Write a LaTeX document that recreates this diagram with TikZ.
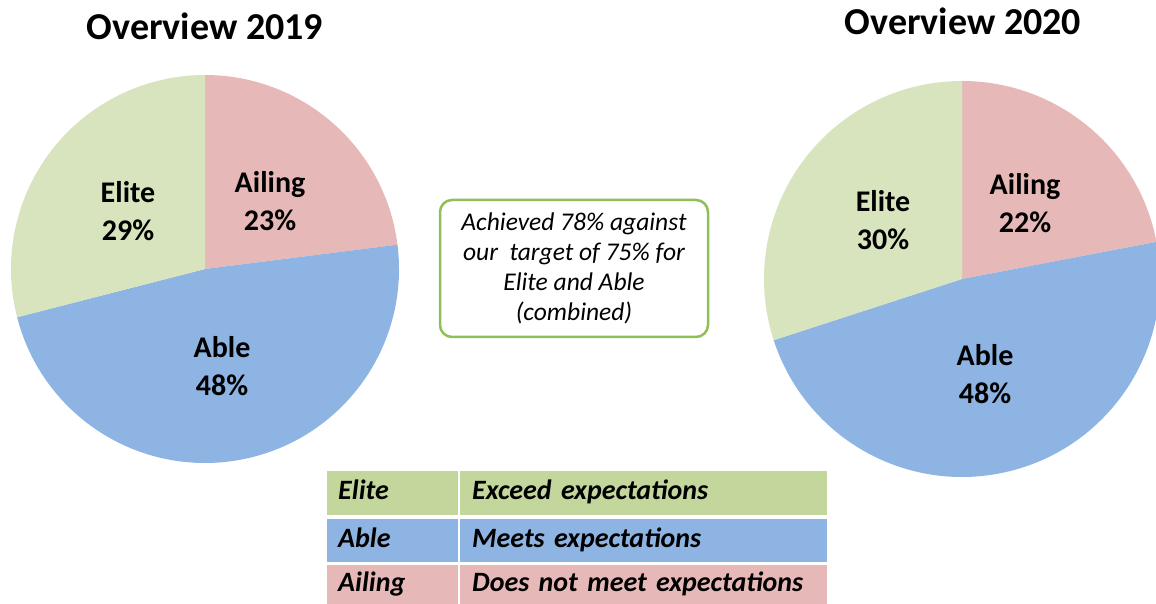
\documentclass[tikz,border=0pt]{standalone}
\usepackage{fontspec}
\setmainfont{Carlito}
\definecolor{elitegreen}{HTML}{D7E4BD}
\definecolor{ailingpink}{HTML}{E6B9B8}
\definecolor{ableblue}{HTML}{8EB4E3}
\definecolor{elitedark}{HTML}{C3D69B}
\definecolor{boxgreen}{HTML}{8FC057}
\tikzset{
  title/.style={anchor=base, font=\fontsize{38}{40}\selectfont\bfseries},
  pielabel/.style={align=center, font=\fontsize{30}{38}\selectfont\bfseries},
  cell/.style={anchor=north west, inner xsep=11pt, inner ysep=0pt, align=left,
    text height=19pt, text depth=6pt, font=\fontsize{28}{30}\selectfont\bfseries\itshape}
}
\begin{document}
\begin{tikzpicture}[x=1pt,y=1pt]
  \useasboundingbox (0,0) rectangle (1156,604);

  % 2019
  \fill[ailingpink] (205,335) -- ++(90:194) arc (90:7.2:194) -- cycle;
  \fill[ableblue] (205,335) -- ++(7.2:194) arc (7.2:-165.6:194) -- cycle;
  \fill[elitegreen] (205,335) -- ++(194.4:194) arc (194.4:90:194) -- cycle;
  \node[title] (title2019) at (205,564) {Overview 2019};
  \node[pielabel] (elite2019) at (128,393) {Elite\\29\%};
  \node[pielabel] (ailing2019) at (270,403) {Ailing\\23\%};
  \node[pielabel] (able2019) at (222,238) {Able\\48\%};

  % 2020
  \fill[ailingpink] (962,325) -- ++(90:198) arc (90:10.8:198) -- cycle;
  \fill[ableblue] (962,325) -- ++(10.8:198) arc (10.8:-162:198) -- cycle;
  \fill[elitegreen] (962,325) -- ++(198:198) arc (198:90:198) -- cycle;
  \node[title] (title2020) at (963,569) {Overview 2020};
  \node[pielabel] (elite2020) at (883,384) {Elite\\30\%};
  \node[pielabel] (ailing2020) at (1025,401) {Ailing\\22\%};
  \node[pielabel] (able2020) at (985,230) {Able\\48\%};

  % target box
  \draw[boxgreen, line width=2.5pt, rounded corners=12pt] (440,267) rectangle (708,404);
  \node[align=center, font=\fontsize{25.5}{30}\selectfont\itshape] (target) at (574,336)
    {Achieved 78\% against\\our\ \ target of 75\% for\\Elite and Able\\(combined)};

  % key
  \node[cell, fill=elitedark, text width=109pt, minimum height=44pt] (elitekey) at (327,133) {Elite};
  \node[cell, fill=elitedark, text width=343pt, minimum height=44pt, inner xsep=12pt] (elitedesc) at (460,133) {Exceed expectations};
  \node[cell, fill=ableblue, text width=109pt, minimum height=43pt] (ablekey) at (327,85) {Able};
  \node[cell, fill=ableblue, text width=343pt, minimum height=43pt, inner xsep=12pt] (abledesc) at (460,85) {Meets expectations};
  \node[cell, fill=ailingpink, text width=109pt, minimum height=39pt] (ailingkey) at (327,39) {Ailing};
  \node[cell, fill=ailingpink, text width=343pt, minimum height=39pt, inner xsep=12pt] (ailingdesc) at (460,39) {Does not meet expectations};
\end{tikzpicture}
\end{document}
